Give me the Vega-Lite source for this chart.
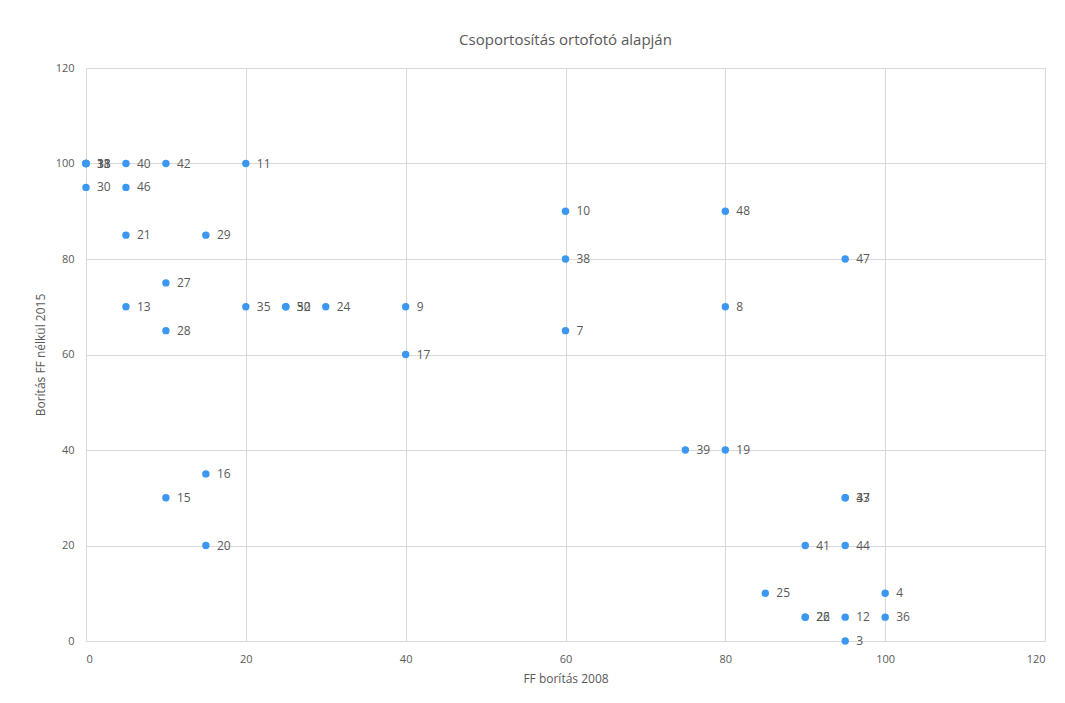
{
  "$schema": "https://vega.github.io/schema/vega-lite/v6.json",
  "autosize": "none",
  "width": 959,
  "height": 573,
  "padding": {"left": 86, "top": 68, "right": 20, "bottom": 62},
  "background": "white",
  "title": {"text": "Csoportosítás ortofotó alapján", "font": "Open Sans", "fontSize": 15, "fontWeight": "normal", "color": "#595959", "anchor": "middle", "offset": 14},
  "data": {"values": [
    {"x": 0, "y": 100, "id": "1"}, {"x": 0, "y": 100, "id": "18"}, {"x": 0, "y": 100, "id": "31"}, {"x": 0, "y": 100, "id": "33"},
    {"x": 0, "y": 95, "id": "30"},
    {"x": 5, "y": 100, "id": "40"},
    {"x": 5, "y": 95, "id": "46"},
    {"x": 10, "y": 100, "id": "42"},
    {"x": 20, "y": 100, "id": "11"},
    {"x": 5, "y": 85, "id": "21"},
    {"x": 15, "y": 85, "id": "29"},
    {"x": 10, "y": 75, "id": "27"},
    {"x": 5, "y": 70, "id": "13"},
    {"x": 10, "y": 65, "id": "28"},
    {"x": 20, "y": 70, "id": "35"},
    {"x": 25, "y": 70, "id": "50"}, {"x": 25, "y": 70, "id": "32"},
    {"x": 30, "y": 70, "id": "24"},
    {"x": 40, "y": 70, "id": "9"},
    {"x": 40, "y": 60, "id": "17"},
    {"x": 60, "y": 90, "id": "10"},
    {"x": 60, "y": 80, "id": "38"},
    {"x": 60, "y": 65, "id": "7"},
    {"x": 80, "y": 90, "id": "48"},
    {"x": 80, "y": 70, "id": "8"},
    {"x": 95, "y": 80, "id": "47"},
    {"x": 75, "y": 40, "id": "39"},
    {"x": 80, "y": 40, "id": "19"},
    {"x": 15, "y": 35, "id": "16"},
    {"x": 10, "y": 30, "id": "15"},
    {"x": 15, "y": 20, "id": "20"},
    {"x": 95, "y": 30, "id": "43"}, {"x": 95, "y": 30, "id": "37"},
    {"x": 90, "y": 20, "id": "41"},
    {"x": 95, "y": 20, "id": "44"},
    {"x": 85, "y": 10, "id": "25"},
    {"x": 100, "y": 10, "id": "4"},
    {"x": 90, "y": 5, "id": "22"}, {"x": 90, "y": 5, "id": "26"},
    {"x": 95, "y": 5, "id": "12"},
    {"x": 100, "y": 5, "id": "36"},
    {"x": 95, "y": 0, "id": "3"}
  ]},
  "encoding": {
    "x": {"field": "x", "type": "quantitative", "title": "FF borítás 2008",
      "scale": {"domain": [0, 120], "nice": false, "zero": true},
      "axis": {"values": [0, 20, 40, 60, 80, 100, 120], "grid": true, "gridColor": "#d9d9d9", "domain": true, "domainColor": "#d9d9d9", "ticks": false, "labelPadding": 12, "labelColor": "#595959", "labelFont": "Open Sans", "labelFontSize": 11, "titleColor": "#595959", "titleFont": "Open Sans", "titleFontSize": 12, "titleFontWeight": "normal", "titlePadding": 9}},
    "y": {"field": "y", "type": "quantitative", "title": "Borítás FF nélkül 2015",
      "scale": {"domain": [0, 120], "nice": false, "zero": true},
      "axis": {"values": [0, 20, 40, 60, 80, 100, 120], "grid": true, "gridColor": "#d9d9d9", "domain": false, "ticks": false, "labelPadding": 12, "labelColor": "#595959", "labelFont": "Open Sans", "labelFontSize": 11, "titleColor": "#595959", "titleFont": "Open Sans", "titleFontSize": 12, "titleFontWeight": "normal", "titlePadding": 8}}
  },
  "layer": [
    {"mark": {"type": "circle", "size": 55, "color": "#3b97f0", "opacity": 1}},
    {"mark": {"type": "text", "align": "left", "baseline": "middle", "dx": 11, "font": "Open Sans", "fontSize": 12, "color": "#595959"},
     "encoding": {"text": {"field": "id"}}}
  ],
  "config": {"view": {"stroke": null}}
}
